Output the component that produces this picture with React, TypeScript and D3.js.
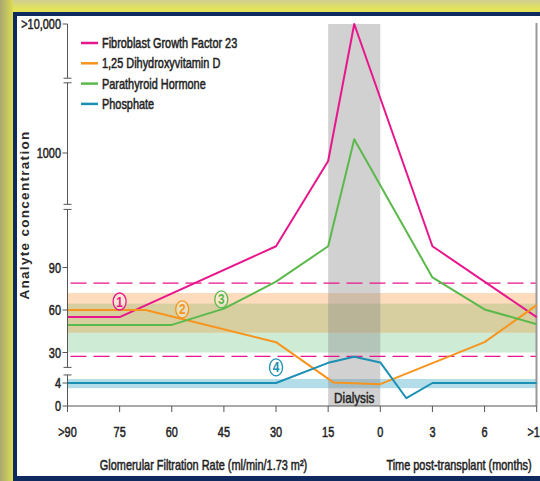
import React from "react";
import * as d3 from "d3";

// Category labels along the x axis (GFR stages, then months after transplant)
const xLabels = [">90", "75", "60", "45", "30", "15", "0", "3", "6", ">12"];

// Series: [x position (index along the axis), analyte concentration]
const fgf23: [number, number][] = [[0, 55], [1, 55], [4, 105], [5, 867], [5.5, 10000], [7, 105], [9, 55]];
const vitaminD: [number, number][] = [[0, 60], [1.5, 60], [4, 37.3], [5.1, 4.1], [6, 3.8], [8, 37.3], [9, 63.4]];
const pth: [number, number][] = [[0, 49.5], [2, 49.5], [3, 61], [4, 80], [5, 105], [5.5, 1280], [7, 83], [8, 60.4], [9, 50]];
const phosphate: [number, number][] = [[0, 4], [4, 4], [5, 22.7], [5.5, 27], [6, 23], [6.5, 1.35], [7, 4], [9, 4]];

// Y tick values and their labels
const yTickValues = [0, 4, 30, 60, 90, 1000, 10000];
const yTickLabels = ["0", "4", "30", "60", "90", "1000", ">10,000"];

// Normal ranges
const vitDRange = [44, 72];
const pthRange = [30, 64.5];
const fgfLimits = [79, 27.3];
const phosphateRange = [3.1, 4.7];

// Dialysis period (x index span)
const dialysisSpan = [5, 6];

// Broken y axis segments (value ranges)
const axisSegments: [number, number][] = [[0, 5.4], [19.5, 131], [400, 3500], [3800, 10000]];

const series = [
  { name: "Fibroblast Growth Factor 23", color: "#e8168c", data: fgf23, badge: "1", badgeAt: [1, 66] },
  { name: "1,25 Dihydroxyvitamin D", color: "#f7941d", data: vitaminD, badge: "2", badgeAt: [2.2, 60.5] },
  { name: "Parathyroid Hormone", color: "#5bb94b", data: pth, badge: "3", badgeAt: [2.95, 67.5] },
  { name: "Phosphate", color: "#1b90b4", data: phosphate, badge: "4", badgeAt: [4, 19.5] },
];

const FONT = "'Liberation Sans', Arial, sans-serif";
const INK = "#222";

// Condensed text: regular sans squeezed horizontally
function NText(props: {
  x: number; y: number; children: React.ReactNode; anchor?: "start" | "middle" | "end";
  size?: number; fill?: string; bold?: boolean; sx?: number;
}) {
  const { x, y, children, anchor = "start", size = 14, fill = INK, bold = false, sx = 0.78 } = props;
  return (
    <text
      transform={`translate(${x},${y}) scale(${sx},1)`}
      textAnchor={anchor}
      fontFamily={FONT}
      fontSize={size}
      fontWeight={bold ? "bold" : "normal"}
      fill={fill}
      stroke={fill}
      strokeWidth={bold ? 0 : 0.5}
    >
      {children}
    </text>
  );
}

export default function App() {
  const W = 540, H = 481;
  const x = d3.scaleLinear().domain([0, 9]).range([67.5, 536.7]);
  const yLow = d3.scaleLinear().domain([0, 4]).range([406, 383]);
  const yMid = d3.scaleLinear().domain([30, 90]).range([352.5, 267.5]);
  const yTop = d3.scaleLog().domain([1000, 10000]).range([153, 24]);
  const y = (v: number) => (v <= 5.5 ? yLow(v) : v <= 200 ? yMid(v) : yTop(v));

  const line = d3.line<[number, number]>().x((d) => x(d[0])).y((d) => y(d[1]));

  const x0 = x(0), x1 = x(9);
  const ovTop = Math.min(vitDRange[1], pthRange[1]);
  const ovBot = Math.max(vitDRange[0], pthRange[0]);

  return (
    <svg width={W} height={H} style={{ position: "absolute", left: 0, top: 0 }}>
      <defs>
        <linearGradient id="edgeL" x1="0" x2="1" y1="0" y2="0">
          <stop offset="0" stopColor="#a9a772" />
          <stop offset="1" stopColor="#dcdc52" />
        </linearGradient>
        <linearGradient id="edgeT" x1="0" x2="0" y1="0" y2="1">
          <stop offset="0" stopColor="#cfcd90" />
          <stop offset="0.7" stopColor="#e4e45a" />
          <stop offset="1" stopColor="#e2e258" />
        </linearGradient>
      </defs>
      {/* frame */}
      <rect x={0} y={0} width={W} height={H} fill="#dede55" />
      <rect x={0} y={0} width={W} height={13} fill="url(#edgeT)" />
      <rect x={0} y={0} width={13} height={H} fill="url(#edgeL)" />
      <rect x={13} y={12} width={W} height={H} fill="#0f2a5f" />
      <rect x={17} y={16} width={W} height={460} fill="#ffffff" />

      {/* normal ranges */}
      <rect x={x0} width={x1 - x0} y={y(pthRange[1])} height={y(pthRange[0]) - y(pthRange[1])} fill="#cdebd5" />
      <rect x={x0} width={x1 - x0} y={y(vitDRange[1])} height={y(vitDRange[0]) - y(vitDRange[1])} fill="#fcdcbd" />
      <rect x={x0} width={x1 - x0} y={y(ovTop)} height={y(ovBot) - y(ovTop)} fill="#d7cfa0" />
      <rect x={x0} width={x1 - x0} y={y(phosphateRange[1])} height={y(phosphateRange[0]) - y(phosphateRange[1])} fill="#b3dde8" />

      {/* dialysis */}
      <rect x={x(dialysisSpan[0])} width={x(dialysisSpan[1]) - x(dialysisSpan[0])} y={24} height={406 - 24} fill="#8c8c8c" opacity={0.4} />
      <NText x={(x(dialysisSpan[0]) + x(dialysisSpan[1])) / 2} y={403} anchor="middle" size={15}>Dialysis</NText>

      {/* FGF23 limits */}
      {fgfLimits.map((v, i) => (
        <line key={i} x1={x0} x2={x1} y1={y(v)} y2={y(v)} stroke="#e8168c" strokeWidth={1.4} strokeDasharray="16 7" strokeDashoffset={-3} />
      ))}

      {/* right border */}
      <line x1={536.5} x2={536.5} y1={23} y2={406} stroke="#999" strokeWidth={2} />

      {/* series */}
      {series.map((s) => (
        <path key={s.name} d={line(s.data) || ""} fill="none" stroke={s.color} strokeWidth={2} strokeLinejoin="round" />
      ))}

      {/* badges */}
      {series.map((s) => {
        const cx = x(s.badgeAt[0]);
        const cy = y(s.badgeAt[1]);
        return (
          <g key={s.badge}>
            <ellipse cx={cx} cy={cy} rx={6.5} ry={8.5} fill="#ffffff" fillOpacity={0.35} stroke={s.color} strokeWidth={1.3} />
            <NText x={cx} y={cy + 5} anchor="middle" size={14} bold fill={s.color} sx={0.85}>{s.badge}</NText>
          </g>
        );
      })}

      {/* y axis */}
      {axisSegments.map((seg, i) => (
        <g key={i} stroke="#555" strokeWidth={1}>
          <line x1={67.5} x2={67.5} y1={y(seg[0])} y2={y(seg[1])} />
          {i > 0 && <line x1={63.5} x2={71.5} y1={y(seg[0])} y2={y(seg[0])} />}
          {i < axisSegments.length - 1 && <line x1={63.5} x2={71.5} y1={y(seg[1])} y2={y(seg[1])} />}
        </g>
      ))}
      {yTickValues.map((v, i) => (
        <g key={v}>
          <line x1={62.5} x2={67.5} y1={y(v)} y2={y(v)} stroke="#555" />
          <NText x={61} y={y(v) + 5} anchor="end">{yTickLabels[i]}</NText>
        </g>
      ))}
      <text transform="translate(29,215) rotate(-90)" textAnchor="middle" fontFamily={FONT} fontWeight="bold" fontSize={13.5} letterSpacing={1.3} fill="#2a2a2a">Analyte concentration</text>

      {/* x axis */}
      <line x1={x0} x2={x1} y1={406} y2={406} stroke="#555" />
      {xLabels.map((lab, i) => (
        <g key={lab}>
          <line x1={x(i)} x2={x(i)} y1={406} y2={412} stroke="#555" />
          <NText x={x(i)} y={437} anchor="middle">{lab}</NText>
        </g>
      ))}
      <NText x={203.5} y={470} anchor="middle">Glomerular Filtration Rate (ml/min/1.73 m²)</NText>
      <NText x={459} y={470} anchor="middle">Time post-transplant (months)</NText>

      {/* legend */}
      {series.map((s, i) => (
        <g key={s.name}>
          <line x1={81} x2={98} y1={43 + i * 20.3} y2={43 + i * 20.3} stroke={s.color} strokeWidth={2.5} />
          <NText x={102} y={48 + i * 20.3}>{s.name}</NText>
        </g>
      ))}
    </svg>
  );
}
